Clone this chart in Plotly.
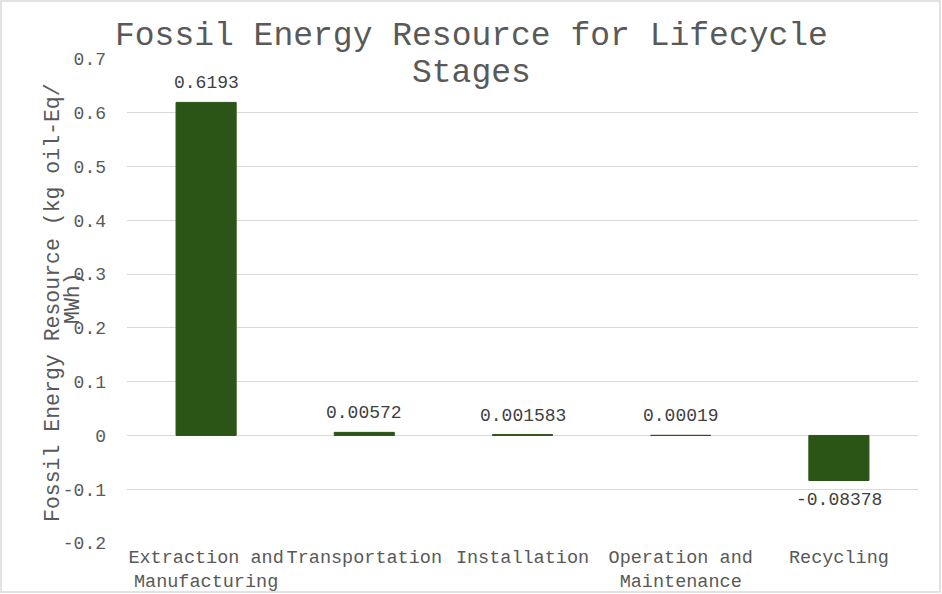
import plotly.graph_objects as go

stages = ["Extraction and<br>Manufacturing", "Transportation", "Installation",
          "Operation and<br>Maintenance", "Recycling"]
fossil_energy = [0.6193, 0.00572, 0.001583, 0.00019, -0.08378]
value_labels = ["0.6193", "0.00572", "0.001583", "0.00019", "-0.08378"]
y_ticks = [-0.2, -0.1, 0, 0.1, 0.2, 0.3, 0.4, 0.5, 0.6, 0.7]
y_tick_labels = ["-0.2", "-0.1", "0", "0.1", "0.2", "0.3", "0.4", "0.5", "0.6", "0.7"]

W, H = 942, 594
ML, MR, MT, MB = 127, 24, 59, 51
PW, PH = W - ML - MR, H - MT - MB

FONT = "Liberation Mono, Courier New, monospace"
GREY = "#595959"
BAR = "#2B5516"


def px_x(p):
    return (p - ML) / PW


def px_y(p):
    return (H - MB - p) / PH


fig = go.Figure()
fig.add_trace(go.Bar(
    x=stages, y=fossil_energy,
    marker=dict(color=BAR, line=dict(color=BAR, width=1)),
    width=0.38,
))

# value labels sit a little away from the bar end, like Excel does
for stage, val, lab in zip(stages, fossil_energy, value_labels):
    fig.add_annotation(
        x=stage, y=val, text=lab, showarrow=False,
        yanchor="middle", yshift=19 if val >= 0 else -19,
        font=dict(family=FONT, size=18, color="#404040"),
    )

fig.update_layout(
    width=W, height=H,
    margin=dict(l=ML, r=MR, t=MT, b=MB, autoexpand=False),
    paper_bgcolor="white", plot_bgcolor="white",
    showlegend=False,
    font=dict(family=FONT, color=GREY),
)

# title, two lines
fig.add_annotation(
    text="Fossil Energy Resource for Lifecycle", xref="paper", yref="paper",
    x=px_x(471), y=px_y(36), showarrow=False, xanchor="center", yanchor="middle",
    font=dict(family=FONT, size=33, color=GREY),
)
fig.add_annotation(
    text="Stages", xref="paper", yref="paper",
    x=px_x(471), y=px_y(73), showarrow=False, xanchor="center", yanchor="middle",
    font=dict(family=FONT, size=33, color=GREY),
)

fig.update_yaxes(
    range=[-0.2, 0.7], tickvals=y_ticks, ticktext=y_tick_labels,
    showgrid=True, gridcolor="#D9D9D9", gridwidth=1,
    zeroline=True, zerolinecolor="#D9D9D9", zerolinewidth=1,
    showline=False, ticks="", automargin=False,
    tickfont=dict(family=FONT, size=18, color=GREY),
    ticklabelstandoff=20,
)
fig.update_xaxes(
    showgrid=False, showline=False, ticks="", automargin=False,
    tickfont=dict(family=FONT, size=18.5, color=GREY),
    tickangle=0,
)

# y axis title, two lines placed like the original
fig.add_annotation(
    text="Fossil Energy Resource (kg oil-Eq/", textangle=-90,
    xref="paper", yref="paper", x=px_x(53), y=px_y(303),
    showarrow=False, xanchor="center", yanchor="middle",
    font=dict(family=FONT, size=21.5, color=GREY),
)
fig.add_annotation(
    text="MWh)", textangle=-90,
    xref="paper", yref="paper", x=px_x(73), y=px_y(298),
    showarrow=False, xanchor="center", yanchor="middle",
    font=dict(family=FONT, size=21.5, color=GREY),
)

# chart border
fig.add_shape(
    type="rect", xref="paper", yref="paper",
    x0=px_x(1), x1=px_x(940), y0=px_y(592), y1=px_y(1),
    line=dict(color="#D9D9D9", width=1.5), fillcolor="rgba(0,0,0,0)",
    layer="below",
)

fig.write_html("out.html", config={"displayModeBar": False},
               post_script="document.body.style.margin='0';")
